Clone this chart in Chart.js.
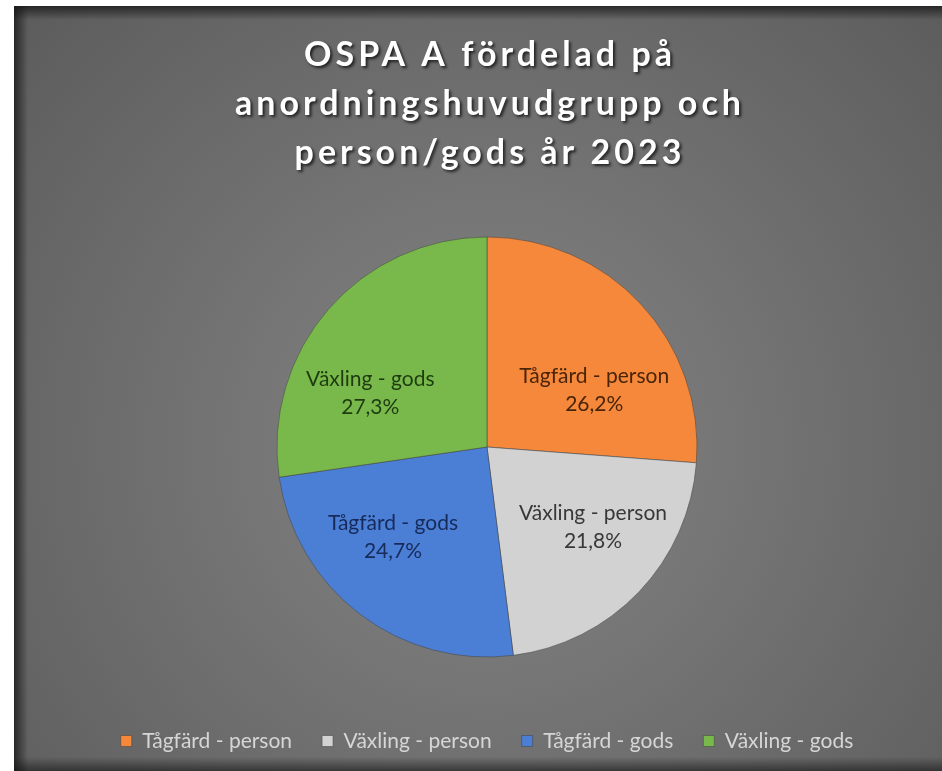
<!DOCTYPE html>
<html>
<head>
<meta charset="utf-8">
<script src="https://cdn.jsdelivr.net/npm/chart.js@4.4.1/dist/chart.umd.min.js"></script>
<style>
    html, body { margin: 0; padding: 0; background: #ffffff; width: 942px; height: 771px; overflow: hidden; }
    #wrap { position: absolute; left: 14px; top: 6px; width: 946px; height: 765px; }
</style>
</head>
<body>
<div id="wrap"><canvas id="ospa-chart" width="946" height="765"></canvas></div>
<script>
// Data
const titleLines = ['OSPA A fördelad på', 'anordningshuvudgrupp och', 'person/gods år 2023'];
const categories = ['Tågfärd - person', 'Växling - person', 'Tågfärd - gods', 'Växling - gods'];
const shares = [26.2, 21.8, 24.7, 27.3];

const sliceColors = ['#f5883b', '#d2d2d2', '#4b7fd5', '#79b84b'];
const labelColors = ['#4a2409', '#383838', '#172a5a', '#1e3c10'];

const FONT = 'Lato, "Open Sans", sans-serif';

// background: grey radial gradient with a dark bevelled edge
const bgPlugin = {
    id: 'bg',
    beforeDraw(chart) {
        const { ctx, width, height } = chart;
        ctx.save();
        const g = ctx.createRadialGradient(473, 440, 0, 473, 440, 640);
        g.addColorStop(0, '#858585');
        g.addColorStop(1, '#5c5c5c');
        ctx.fillStyle = g;
        ctx.fillRect(0, 0, width, height);

        // left edge
        let e = ctx.createLinearGradient(0, 0, 14, 0);
        e.addColorStop(0, 'rgba(20,20,20,0.75)');
        e.addColorStop(1, 'rgba(20,20,20,0)');
        ctx.fillStyle = e;
        ctx.fillRect(0, 0, 14, height);
        // top edge
        e = ctx.createLinearGradient(0, 0, 0, 14);
        e.addColorStop(0, 'rgba(20,20,20,0.75)');
        e.addColorStop(1, 'rgba(20,20,20,0)');
        ctx.fillStyle = e;
        ctx.fillRect(0, 0, width, 14);
        // bottom edge
        e = ctx.createLinearGradient(0, height - 14, 0, height);
        e.addColorStop(0, 'rgba(20,20,20,0)');
        e.addColorStop(1, 'rgba(20,20,20,0.6)');
        ctx.fillStyle = e;
        ctx.fillRect(0, height - 14, width, 14);
        ctx.restore();
    }
};

// title with shadow and letter spacing
const titlePlugin = {
    id: 'bigTitle',
    afterDraw(chart) {
        const { ctx } = chart;
        ctx.save();
        ctx.font = 'bold 34px ' + FONT;
        ctx.letterSpacing = '4px';
        ctx.textAlign = 'center';
        ctx.textBaseline = 'alphabetic';
        ctx.fillStyle = '#ffffff';
        ctx.shadowColor = 'rgba(0,0,0,0.7)';
        ctx.shadowOffsetX = 2;
        ctx.shadowOffsetY = 2;
        ctx.shadowBlur = 3;
        titleLines.forEach((line, i) => {
            ctx.fillText(line, 476, 60 + i * 49);
        });
        ctx.restore();
    }
};

// labels inside the slices: name + percentage
const sliceLabels = {
    id: 'sliceLabels',
    afterDatasetsDraw(chart) {
        const { ctx } = chart;
        const arcs = chart.getDatasetMeta(0).data;
        ctx.save();
        ctx.font = '21px ' + FONT;
        ctx.textAlign = 'center';
        ctx.textBaseline = 'middle';
        arcs.forEach((arc, i) => {
            const p = arc.getProps(['x', 'y', 'startAngle', 'endAngle', 'outerRadius'], true);
            const mid = (p.startAngle + p.endAngle) / 2;
            const lx = p.x + Math.cos(mid) * p.outerRadius * 0.716 - 3;
            const ly = p.y + Math.sin(mid) * p.outerRadius * 0.475 + 11;
            ctx.fillStyle = labelColors[i];
            ctx.fillText(categories[i], lx, ly - 14);
            ctx.fillText(shares[i].toFixed(1).replace('.', ',') + '%', lx, ly + 14);
        });
        ctx.restore();
    }
};

const ctx = document.getElementById('ospa-chart').getContext('2d');
const ospaChart = new Chart(ctx, {
    type: 'pie',
    data: {
        labels: categories,
        datasets: [{
            data: shares,
            backgroundColor: sliceColors,
            borderColor: 'rgba(70,70,70,0.55)',
            borderWidth: 1,
            radius: 210
        }]
    },
    options: {
        responsive: false,
        animation: false,
        layout: { padding: { top: 187.5, bottom: 9.5, left: 0, right: 0 } },
        plugins: {
            title: { display: false },
            tooltip: { enabled: false },
            legend: {
                position: 'bottom',
                labels: {
                    boxWidth: 11,
                    boxHeight: 11,
                    padding: 30,
                    color: '#d6d6d6',
                    font: { family: FONT, size: 21 }
                }
            }
        }
    },
    plugins: [bgPlugin, titlePlugin, sliceLabels]
});
</script>
</body>
</html>
